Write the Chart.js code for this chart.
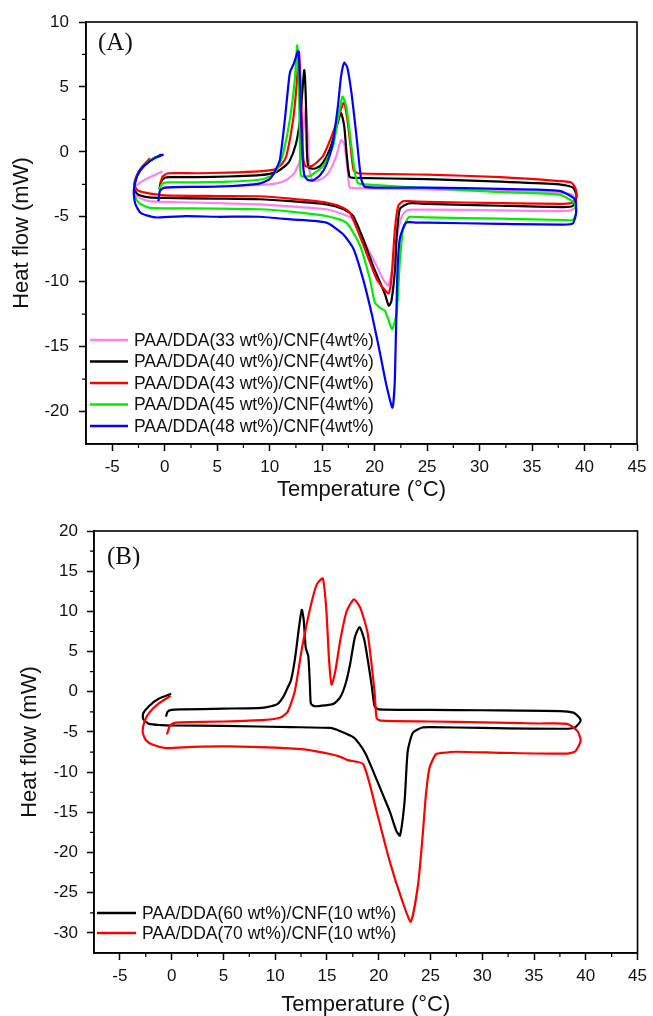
<!DOCTYPE html>
<html lang="en">
  <head>
    <meta charset="UTF-8" />
    <title>DSC heat flow</title>
    <script src="https://cdn.jsdelivr.net/npm/chart.js@4.4.0/dist/chart.umd.min.js"></script>
    <style>
      html, body { margin: 0; padding: 0; background: #fff; }
      canvas { display: block; }
    </style>
  </head>
  <body>
    <canvas id="chartA" width="653" height="508"></canvas>
    <canvas id="chartB" width="653" height="508"></canvas>
    <script>
      // tick labels
      const tempTicks = [-5, 0, 5, 10, 15, 20, 25, 30, 35, 40, 45];
      const heatTicksA = [-20, -15, -10, -5, 0, 5, 10];
      const heatTicksB = [-30, -25, -20, -15, -10, -5, 0, 5, 10, 15, 20];

      // (A) series names
      const namesA = [
        "PAA/DDA(33 wt%)/CNF(4wt%)",
        "PAA/DDA(40 wt%)/CNF(4wt%)",
        "PAA/DDA(43 wt%)/CNF(4wt%)",
        "PAA/DDA(45 wt%)/CNF(4wt%)",
        "PAA/DDA(48 wt%)/CNF(4wt%)",
      ];
      // (B) series names
      const namesB = ["PAA/DDA(60 wt%)/CNF(10 wt%)", "PAA/DDA(70 wt%)/CNF(10 wt%)"];

      // [temperature, heat flow]
      const pink33 = [
        [-0.3, -2.8], [0.2, -2.75], [3, -2.7], [6, -2.65], [9, -2.55], [10.5, -2.45], [11.5, -2.2], [12.3, -1.7], [12.9, -0.6], [13.2, 1.5], [13.45, 3.4], [13.65, 1.0], [13.8, -1.5], [14.1, -2.2], [14.6, -2.2], [15.3, -1.9], [15.9, -1.2], [16.4, -0.2], [16.8, 0.9], [17.1, 0.6], [17.4, -1.2], [17.6, -2.7], [18.0, -2.8], [25, -2.9], [32, -3.0], [37.6, -3.15], [38.8, -3.3], [39.25, -3.8], [39.1, -4.3], [38.5, -4.55], [32, -4.5], [25, -4.45], [23.5, -4.45], [23.0, -4.55], [22.6, -4.95], [22.25, -6.0], [21.8, -8.5], [21.3, -10.3], [20.8, -9.8], [20.2, -8.8], [19.2, -7.2], [18.0, -5.2], [17.0, -4.8], [15.4, -4.42], [12, -4.2], [9, -4.04], [5, -3.95], [0, -3.85], [-1.5, -3.8], [-2.5, -3.5], [-2.9, -3.0], [-2.9, -2.75], [-2.0, -2.2], [-1.0, -1.8], [-0.2, -1.5],
      ];
      const black40 = [
        [-0.5, -2.9], [-0.35, -2.3], [0, -2.0], [0.5, -1.95], [3, -1.95], [6, -1.9], [9, -1.8], [10.5, -1.6], [11.3, -1.2], [11.9, -0.7], [12.5, 0.6], [12.9, 2.5], [13.1, 4.5], [13.3, 6.3], [13.45, 4.0], [13.55, 0], [13.7, -1.2], [14.2, -1.3], [14.8, -1.1], [15.4, -0.4], [15.9, 0.6], [16.4, 2.0], [16.8, 3.0], [17.1, 2.0], [17.35, -0.3], [17.6, -1.9], [18.0, -2.0], [25, -2.1], [32, -2.3], [37.6, -2.5], [38.9, -2.75], [39.25, -3.4], [38.9, -4.15], [38, -4.25], [32, -4.15], [25, -4.0], [23.5, -3.95], [23.0, -4.05], [22.4, -4.4], [22.1, -6.5], [21.95, -9.0], [21.6, -11.5], [21.35, -11.85], [21.0, -11.0], [20.65, -10.3], [19.86, -8.8], [18.9, -6.7], [17.96, -4.94], [17.0, -4.4], [15.4, -4.04], [12, -3.8], [9, -3.65], [5, -3.6], [0, -3.55], [-1.5, -3.5], [-2.5, -3.3], [-2.9, -2.9], [-2.8, -2.2], [-2.5, -1.6], [-2.0, -1.1], [-1.1, -0.52], [-0.3, -0.2],
      ];
      const red43 = [
        [-0.4, -2.4], [-0.2, -1.9], [0.3, -1.65], [3, -1.65], [6, -1.6], [9, -1.5], [10.5, -1.35], [11.2, -0.9], [11.6, -0.3], [12.24, 2.5], [12.56, 5.06], [12.8, 7.7], [13.0, 4.0], [13.2, -0.5], [13.4, -1.1], [14.0, -1.1], [14.5, -0.8], [15.1, -0.3], [16.05, 1.5], [16.6, 2.8], [17.07, 3.8], [17.4, 2.5], [17.7, 0.5], [18.0, -1.4], [18.4, -1.65], [25, -1.75], [32, -1.95], [37.6, -2.25], [38.76, -2.37], [39.17, -2.88], [39.2, -3.5], [38.9, -3.9], [38, -4.0], [32, -3.95], [25, -3.85], [23.2, -3.8], [22.7, -3.8], [22.25, -4.17], [21.93, -6.0], [21.6, -9.8], [21.35, -10.9], [21.13, -10.8], [20.2, -9.8], [19.55, -8.5], [18.6, -6.48], [17.64, -4.68], [17.0, -4.3], [15.4, -3.9], [12, -3.6], [9, -3.42], [5, -3.4], [0, -3.35], [-1.5, -3.2], [-2.5, -3.0], [-2.9, -2.6], [-2.7, -1.9], [-2.2, -1.2], [-1.4, -0.5],
      ];
      const green45 = [
        [-0.5, -2.9], [-0.3, -2.5], [0.2, -2.35], [3, -2.35], [6, -2.3], [9, -2.15], [10.3, -1.8], [10.9, -1.0], [11.3, -0.06], [11.93, 2.5], [12.4, 5.6], [12.62, 8.19], [12.8, 4.5], [12.9, -0.5], [13.0, -1.86], [13.8, -1.86], [14.5, -1.5], [15.1, -1.1], [16.05, 0.45], [16.5, 2.5], [16.94, 4.25], [17.3, 3.5], [17.7, 1.0], [18.1, -1.5], [18.4, -2.4], [19, -2.5], [25, -2.8], [32, -3.1], [37.6, -3.3], [39.0, -3.9], [39.2, -4.67], [38.9, -5.24], [38, -5.25], [32, -5.15], [25, -5.05], [23.5, -5.0], [23.2, -5.06], [22.7, -6.0], [22.4, -8.5], [22.1, -12.4], [21.67, -13.65], [21.3, -12.9], [20.98, -12.25], [20.5, -12.0], [20.02, -11.6], [19.55, -9.8], [18.6, -7.2], [17.3, -5.45], [15.4, -4.94], [12, -4.6], [9, -4.42], [5, -4.37], [0, -4.35], [-1.5, -4.3], [-2.5, -3.9], [-2.9, -3.3], [-2.9, -2.7], [-2.6, -1.8], [-2.0, -1.1], [-1.1, -0.5], [-0.4, -0.3],
      ];
      const blue48 = [
        [-0.6, -3.8], [-0.45, -3.0], [0, -2.75], [3, -2.7], [6, -2.65], [9, -2.45], [10.0, -2.1], [10.5, -1.5], [10.98, -0.58], [11.45, 2.5], [11.7, 4.5], [11.93, 6.1], [12.3, 6.8], [12.72, 7.75], [12.9, 5.0], [13.1, 0], [13.3, -1.8], [13.6, -2.15], [14.1, -2.2], [14.8, -1.8], [15.4, -1.0], [16.0, 0.6], [16.5, 3.5], [16.8, 5.8], [17.1, 6.86], [17.4, 6.5], [17.8, 4.5], [18.3, 1.0], [18.7, -2.0], [19.1, -2.7], [25, -2.75], [32, -2.85], [37.6, -3.0], [39.07, -3.65], [39.2, -4.67], [38.9, -5.5], [38, -5.6], [32, -5.55], [25, -5.45], [24, -5.45], [23.0, -5.45], [22.4, -6.7], [22.15, -9.8], [21.93, -17.5], [21.7, -19.7], [21.13, -18.0], [20.5, -15.45], [19.7, -12.4], [18.9, -9.8], [18.0, -7.5], [17.0, -6.35], [15.4, -5.45], [12, -5.2], [9, -5.0], [5, -5.0], [2, -4.95], [-0.9, -5.05], [-2.3, -4.7], [-2.8, -4.0], [-2.95, -3.2], [-2.9, -2.7], [-2.6, -1.8], [-2.0, -1.1], [-1.0, -0.5], [-0.1, -0.2],
      ];
      const black60 = [
        [-0.55, -3.1], [-0.4, -2.5], [0, -2.25], [1, -2.2], [5, -2.1], [8.7, -2.0], [9.6, -1.8], [10.25, -1.5], [10.8, -0.6], [11.2, 0.5], [11.52, 1.4], [11.9, 4.0], [12.3, 8.0], [12.57, 10.2], [12.75, 9.0], [12.95, 5.5], [13.2, 4.4], [13.35, 1.0], [13.45, -1.5], [13.8, -1.8], [14.8, -1.7], [15.65, -1.5], [16.28, -0.7], [16.8, 1.0], [17.24, 3.46], [17.7, 6.8], [18.15, 8.05], [18.6, 6.5], [19.0, 3.5], [19.35, 0.5], [19.6, -1.8], [20, -2.2], [25, -2.25], [30, -2.3], [37.5, -2.4], [38.8, -2.6], [39.3, -3.1], [39.5, -3.6], [39.0, -4.4], [38.3, -4.6], [30, -4.5], [25, -4.4], [24.2, -4.45], [23.3, -5.1], [22.8, -7.4], [22.5, -13.6], [22.05, -17.9], [21.7, -17.3], [21.1, -15.0], [20.4, -12.8], [19.5, -10.0], [18.8, -7.9], [18.3, -6.8], [17.6, -5.7], [16.3, -4.9], [15.3, -4.5], [11.5, -4.4], [5, -4.25], [0, -4.2], [-1.0, -4.15], [-2.2, -4.0], [-2.75, -3.4], [-2.75, -2.7], [-2.2, -1.8], [-1.3, -0.9], [-0.05, -0.25],
      ];
      const red70 = [
        [-0.45, -5.3], [-0.2, -4.3], [0.2, -3.9], [0.85, -3.8], [5, -3.7], [9, -3.5], [10.5, -3.2], [11.2, -2.5], [11.9, 0.1], [12.6, 5.5], [13.4, 10.5], [14.0, 13.3], [14.6, 14.1], [14.95, 10], [15.2, 4.0], [15.45, 0.9], [15.8, 2.5], [16.3, 6.5], [16.9, 10], [17.6, 11.5], [18.2, 10.5], [18.9, 7.5], [19.3, 3.5], [19.6, 0], [19.8, -3.3], [20.2, -3.6], [25, -3.7], [30, -3.8], [35.4, -3.95], [38.2, -4.0], [39.2, -4.9], [39.5, -6.1], [39.0, -7.4], [38.2, -7.7], [32, -7.6], [27.5, -7.46], [26.2, -7.6], [25.5, -7.8], [24.9, -9.5], [24.56, -12.8], [24.25, -17.8], [23.8, -24.0], [23.1, -28.6], [22.3, -26.1], [21.06, -21.1], [19.8, -14.9], [18.5, -9.0], [17.0, -8.5], [16.3, -8.1], [15.5, -7.8], [13, -7.2], [10, -6.95], [5.5, -6.8], [2, -6.85], [-0.58, -7.0], [-1.8, -6.6], [-2.5, -6.0], [-2.8, -5.0], [-2.6, -3.6], [-2.1, -2.5], [-1.3, -1.5], [-0.1, -0.5],
      ];

      const colorsA = ["rgb(255,128,240)", "#000000", "#ff0000", "#00ee00", "#0000ff"];
      const colorsB = ["#000000", "#ff0000"];

      const sansFont = "'Liberation Sans', Arial, sans-serif";

      // box frame + minor ticks
      const framePlugin = {
        id: "frame",
        afterDraw(chart) {
          const { ctx, chartArea: a, scales } = chart;
          ctx.save();
          ctx.strokeStyle = "#000";
          ctx.lineWidth = 1.6;
          ctx.strokeRect(a.left, a.top, a.right - a.left, a.bottom - a.top);
          ctx.lineWidth = 1.2;
          ctx.beginPath();
          const sx = scales.x;
          for (let v = sx.min + 2.5; v < sx.max; v += 2.5) {
            if (v % 5 === 0) continue;
            const px = sx.getPixelForValue(v);
            ctx.moveTo(px, a.bottom);
            ctx.lineTo(px, a.bottom + 4);
          }
          const sy = scales.y;
          for (let v = sy.min + 2.5; v < sy.max; v += 2.5) {
            if (v % 5 === 0) continue;
            const py = sy.getPixelForValue(v);
            ctx.moveTo(a.left, py);
            ctx.lineTo(a.left - 4, py);
          }
          ctx.stroke();
          ctx.restore();
        },
      };

      // legend inside the plot + panel tag
      const legendPlugin = {
        id: "boxLegend",
        afterDraw(chart, args, opts) {
          const ctx = chart.ctx;
          ctx.save();
          ctx.font = "17.5px " + sansFont;
          ctx.textBaseline = "middle";
          ctx.textAlign = "left";
          chart.data.datasets.forEach(function (ds, i) {
            const y = opts.y + i * opts.row;
            ctx.strokeStyle = ds.borderColor;
            ctx.lineWidth = 2.5;
            ctx.beginPath();
            ctx.moveTo(opts.x, y);
            ctx.lineTo(opts.x + opts.len, y);
            ctx.stroke();
            ctx.fillStyle = "#111";
            ctx.fillText(ds.label, opts.x + opts.len + 6, y + 1);
          });
          ctx.font = "25px 'Liberation Serif', 'Times New Roman', serif";
          ctx.fillStyle = "#111";
          ctx.fillText(opts.tag, opts.tagX, opts.tagY);
          ctx.restore();
        },
      };

      function makeChart(id, names, series, colors, cfg) {
        const datasets = series.map(function (pts, i) {
          return {
            label: names[i],
            data: pts.map(function (p) { return { x: p[0], y: p[1] }; }),
            showLine: true,
            borderColor: colors[i],
            borderWidth: 2.2,
            pointRadius: 0,
            tension: 0.2,
            order: series.length - i,
          };
        });
        return new Chart(document.getElementById(id), {
          type: "scatter",
          data: { datasets: datasets },
          plugins: [framePlugin, legendPlugin],
          options: {
            responsive: false,
            animation: false,
            layout: { padding: { left: 0, right: cfg.padRight, top: cfg.padTop, bottom: 0 } },
            plugins: {
              legend: { display: false },
              tooltip: { enabled: false },
              boxLegend: cfg.legend,
            },
            scales: {
              x: {
                type: "linear",
                min: -7.5,
                max: 45,
                afterBuildTicks: function (s) { s.ticks = tempTicks.map(function (v) { return { value: v }; }); },
                afterFit: function (s) { s.height = cfg.xHeight; },
                grid: { drawOnChartArea: false, drawTicks: true, tickLength: 7, tickWidth: 1.5, tickColor: "#000" },
                border: { display: true, color: "#000", width: 1.6 },
                ticks: { color: "#111", font: { family: sansFont, size: 17 }, padding: 6, maxRotation: 0 },
                title: {
                  display: true,
                  text: "Temperature (°C)",
                  color: "#111",
                  font: { family: sansFont, size: 22, lineHeight: 1 },
                  padding: { top: 0, bottom: cfg.xTitlePad },
                },
              },
              y: {
                type: "linear",
                min: cfg.yMin,
                max: cfg.yMax,
                afterBuildTicks: function (s) { s.ticks = cfg.yTicks.map(function (v) { return { value: v }; }); },
                afterFit: function (s) { s.width = cfg.yWidth; },
                grid: { drawOnChartArea: false, drawTicks: true, tickLength: 7, tickWidth: 1.5, tickColor: "#000" },
                border: { display: true, color: "#000", width: 1.6 },
                ticks: { color: "#111", font: { family: sansFont, size: 17 }, padding: cfg.yTickPad },
                title: {
                  display: true,
                  text: "Heat flow (mW)",
                  color: "#111",
                  font: { family: sansFont, size: 22, lineHeight: 1 },
                  padding: { top: cfg.yTitlePad, bottom: 0 },
                },
              },
            },
          },
        });
      }

      makeChart("chartA", namesA, [pink33, black40, red43, green45, blue48], colorsA, {
        yMin: -22.5, yMax: 10, yTicks: heatTicksA,
        padTop: 22, padRight: 16, xHeight: 64, yWidth: 86,
        xTitlePad: 7, yTitlePad: 11, yTickPad: 10,
        legend: { x: 90, y: 340, row: 21.5, len: 38, tag: "(A)", tagX: 98, tagY: 43 },
      });

      makeChart("chartB", namesB, [black60, red70], colorsB, {
        yMin: -32.5, yMax: 20, yTicks: heatTicksB,
        padTop: 23, padRight: 9, xHeight: 63, yWidth: 94,
        xTitlePad: 0, yTitlePad: 19, yTickPad: 9,
        legend: { x: 97, y: 405, row: 20, len: 39, tag: "(B)", tagX: 107, tagY: 49 },
      });
    </script>
  </body>
</html>
